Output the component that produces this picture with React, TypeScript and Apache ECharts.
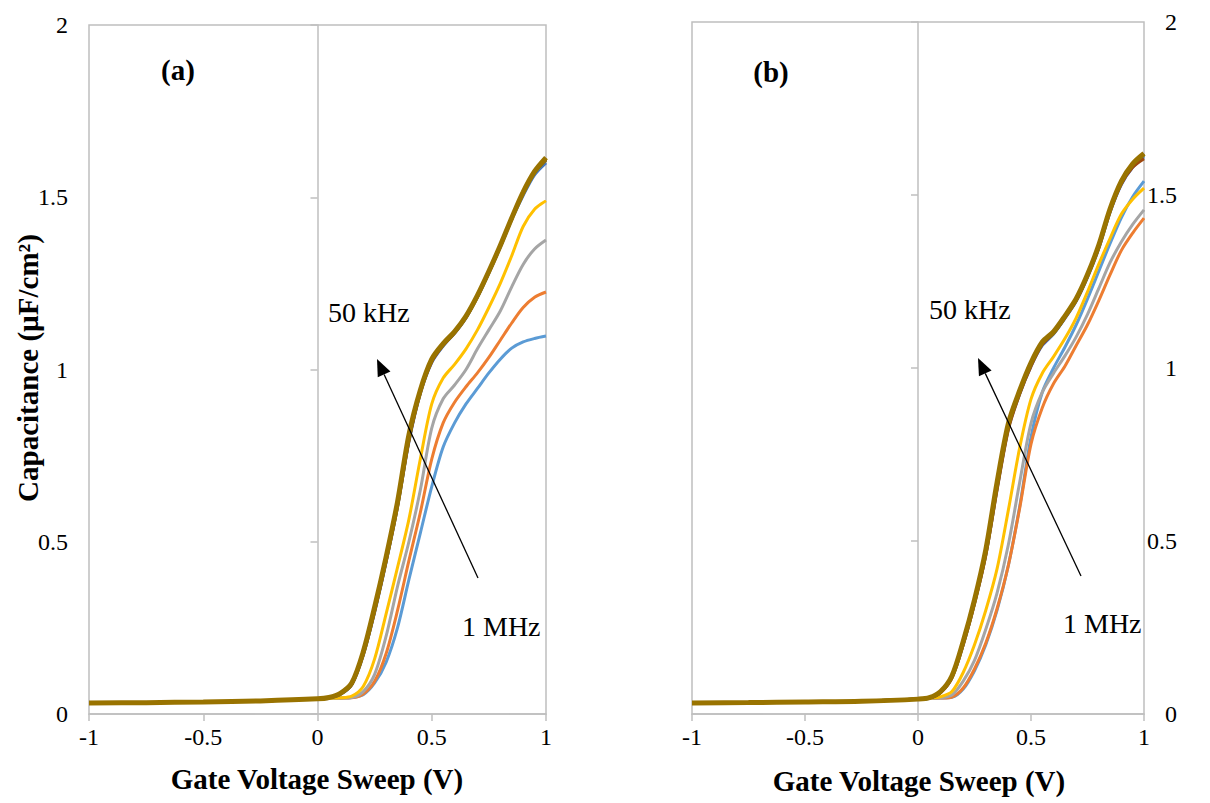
import React, { useEffect, useRef } from "react";
import * as echarts from "echarts";

// Gate voltage sweep (V) – shared sample points
const voltage = [-1, -0.75, -0.5, -0.25, 0, 0.05, 0.1, 0.15, 0.2, 0.25, 0.3, 0.35, 0.4, 0.45, 0.5, 0.55, 0.6, 0.65, 0.7, 0.75, 0.8, 0.85, 0.9, 0.95, 1];

const xTickValues = [-1, -0.5, 0, 0.5, 1];
const yTickValues = [0, 0.5, 1, 1.5, 2];

const seriesNames = ["1 MHz", "f2", "f3", "f4", "f5", "f6", "f7", "f8", "f9", "50 kHz"];
const seriesColors = ["#5B9BD5", "#ED7D31", "#A5A5A5", "#FFC000", "#4472C4", "#70AD47", "#255E91", "#9E480E", "#636363", "#997300"];

// Panel (a) capacitance (µF/cm²)
const a1 = [0.032, 0.033, 0.035, 0.038, 0.044, 0.045, 0.046, 0.048, 0.056, 0.09, 0.15, 0.25, 0.39, 0.525, 0.66, 0.775, 0.845, 0.9, 0.945, 0.99, 1.03, 1.062, 1.08, 1.09, 1.097];
const a2 = [0.032, 0.033, 0.035, 0.038, 0.044, 0.045, 0.046, 0.047, 0.058, 0.095, 0.175, 0.3, 0.445, 0.585, 0.74, 0.845, 0.905, 0.95, 0.99, 1.035, 1.085, 1.135, 1.18, 1.21, 1.225];
const a3 = [0.032, 0.033, 0.035, 0.038, 0.044, 0.045, 0.046, 0.048, 0.065, 0.115, 0.225, 0.37, 0.5, 0.65, 0.83, 0.915, 0.955, 1.0, 1.06, 1.115, 1.17, 1.24, 1.305, 1.35, 1.376];
const a4 = [0.032, 0.033, 0.035, 0.038, 0.044, 0.046, 0.047, 0.052, 0.08, 0.16, 0.29, 0.425, 0.565, 0.74, 0.9, 0.975, 1.015, 1.06, 1.115, 1.18, 1.25, 1.33, 1.415, 1.465, 1.49];
const a5 = [0.032, 0.033, 0.035, 0.038, 0.044, 0.047, 0.057, 0.085, 0.17, 0.295, 0.44, 0.6, 0.79, 0.93, 1.02, 1.068, 1.105, 1.15, 1.21, 1.28, 1.355, 1.435, 1.505, 1.565, 1.6];
const a6 = [0.032, 0.033, 0.035, 0.038, 0.044, 0.047, 0.058, 0.087, 0.175, 0.3, 0.445, 0.605, 0.795, 0.935, 1.025, 1.07, 1.107, 1.152, 1.212, 1.282, 1.357, 1.437, 1.51, 1.57, 1.607];
const a7 = [0.032, 0.033, 0.035, 0.038, 0.044, 0.047, 0.059, 0.088, 0.177, 0.305, 0.45, 0.61, 0.8, 0.937, 1.027, 1.072, 1.108, 1.153, 1.213, 1.283, 1.358, 1.438, 1.512, 1.572, 1.61];
const a8 = [0.032, 0.033, 0.035, 0.038, 0.044, 0.047, 0.058, 0.086, 0.172, 0.298, 0.442, 0.602, 0.792, 0.932, 1.022, 1.07, 1.106, 1.151, 1.211, 1.281, 1.357, 1.438, 1.512, 1.572, 1.608];
const a9 = [0.032, 0.033, 0.035, 0.038, 0.044, 0.047, 0.059, 0.089, 0.178, 0.307, 0.452, 0.612, 0.805, 0.938, 1.028, 1.073, 1.109, 1.154, 1.214, 1.284, 1.359, 1.439, 1.513, 1.573, 1.612];
const a10 = [0.032, 0.033, 0.035, 0.038, 0.044, 0.048, 0.06, 0.09, 0.18, 0.31, 0.455, 0.615, 0.81, 0.94, 1.03, 1.075, 1.11, 1.155, 1.215, 1.285, 1.36, 1.44, 1.515, 1.575, 1.615];

// Panel (b) capacitance (µF/cm²)
const b1 = [0.032, 0.033, 0.035, 0.037, 0.043, 0.045, 0.046, 0.048, 0.072, 0.125, 0.2, 0.3, 0.43, 0.6, 0.8, 0.93, 1.0, 1.06, 1.125, 1.2, 1.28, 1.36, 1.435, 1.495, 1.54];
const b2 = [0.032, 0.033, 0.035, 0.037, 0.043, 0.045, 0.046, 0.049, 0.075, 0.13, 0.205, 0.305, 0.43, 0.595, 0.78, 0.885, 0.955, 1.005, 1.065, 1.125, 1.195, 1.27, 1.34, 1.39, 1.433];
const b3 = [0.032, 0.033, 0.035, 0.037, 0.043, 0.045, 0.047, 0.055, 0.095, 0.155, 0.245, 0.35, 0.49, 0.67, 0.84, 0.93, 0.985, 1.035, 1.09, 1.155, 1.23, 1.305, 1.365, 1.415, 1.457];
const b4 = [0.032, 0.033, 0.035, 0.037, 0.043, 0.046, 0.05, 0.065, 0.12, 0.2, 0.3, 0.42, 0.59, 0.77, 0.91, 0.985, 1.033, 1.085, 1.145, 1.22, 1.3, 1.375, 1.445, 1.488, 1.52];
const b5 = [0.032, 0.033, 0.035, 0.037, 0.043, 0.046, 0.062, 0.105, 0.2, 0.32, 0.46, 0.65, 0.825, 0.925, 1.005, 1.065, 1.098, 1.143, 1.193, 1.262, 1.345, 1.45, 1.53, 1.58, 1.61];
const b6 = [0.032, 0.033, 0.035, 0.037, 0.043, 0.046, 0.063, 0.107, 0.205, 0.325, 0.467, 0.66, 0.832, 0.93, 1.01, 1.07, 1.1, 1.146, 1.196, 1.266, 1.35, 1.455, 1.535, 1.585, 1.615];
const b7 = [0.032, 0.033, 0.035, 0.037, 0.043, 0.046, 0.064, 0.108, 0.207, 0.327, 0.47, 0.663, 0.835, 0.932, 1.012, 1.072, 1.102, 1.147, 1.197, 1.267, 1.352, 1.457, 1.537, 1.587, 1.617];
const b8 = [0.032, 0.033, 0.035, 0.037, 0.043, 0.046, 0.062, 0.104, 0.2, 0.318, 0.458, 0.648, 0.822, 0.925, 1.005, 1.068, 1.1, 1.145, 1.195, 1.265, 1.348, 1.452, 1.532, 1.58, 1.605];
const b9 = [0.032, 0.033, 0.035, 0.037, 0.043, 0.047, 0.064, 0.109, 0.208, 0.328, 0.472, 0.665, 0.837, 0.933, 1.013, 1.073, 1.103, 1.148, 1.198, 1.268, 1.353, 1.458, 1.538, 1.588, 1.618];
const b10 = [0.032, 0.033, 0.035, 0.037, 0.043, 0.047, 0.065, 0.11, 0.21, 0.33, 0.475, 0.67, 0.84, 0.935, 1.015, 1.075, 1.105, 1.15, 1.2, 1.27, 1.355, 1.46, 1.54, 1.59, 1.62];

const panelA = [a1, a2, a3, a4, a5, a6, a7, a8, a9, a10];
const panelB = [b1, b2, b3, b4, b5, b6, b7, b8, b9, b10];

const FONT = "Liberation Serif";
const BOX = "#BFBFBF";

function buildSeries(panel: number[][], gridIdx: number) {
  return panel.map((vals, i) => ({
    type: "line",
    name: seriesNames[i],
    xAxisIndex: gridIdx,
    yAxisIndex: gridIdx * 2,
    data: voltage.map((v, k) => [v, vals[k]]),
    showSymbol: false,
    smooth: 0.3,
    lineStyle: { color: seriesColors[i], width: i === panel.length - 1 ? 5 : 3 },
    itemStyle: { color: seriesColors[i] },
    z: 2 + i,
  }));
}

function arrow(x1: number, y1: number, x2: number, y2: number) {
  const dx = x2 - x1;
  const dy = y2 - y1;
  const len = Math.sqrt(dx * dx + dy * dy);
  const ux = dx / len;
  const uy = dy / len;
  const hl = 17;
  const hw = 7;
  const bx = x2 - ux * hl;
  const by = y2 - uy * hl;
  const nx = -uy;
  const ny = ux;
  return [
    { type: "line", shape: { x1, y1, x2: bx, y2: by }, style: { stroke: "#000", lineWidth: 1.3 }, z: 100 },
    {
      type: "polygon",
      shape: { points: [[x2, y2], [bx + nx * hw, by + ny * hw], [bx - nx * hw, by - ny * hw]] },
      style: { fill: "#000" },
      z: 100,
    },
  ];
}

function txt(text: string, x: number, y: number, size: number, bold: boolean, align = "left", rotation = 0) {
  return {
    type: "text",
    x,
    y,
    rotation,
    z: 100,
    style: {
      text,
      fill: "#000",
      fontFamily: FONT,
      fontSize: size,
      fontWeight: bold ? "bold" : "normal",
      align,
      verticalAlign: "middle",
    },
  };
}

export default function App() {
  const ref = useRef<HTMLDivElement>(null);

  useEffect(() => {
    document.body.style.margin = "0";
    if (!ref.current) return;
    const chart = echarts.init(ref.current, null, { renderer: "svg" });

    const xMin = xTickValues[0];
    const xMax = xTickValues[xTickValues.length - 1];
    const xInt = xTickValues[1] - xTickValues[0];
    const yMin = yTickValues[0];
    const yMax = yTickValues[yTickValues.length - 1];
    const yInt = yTickValues[1] - yTickValues[0];

    const xAxisFor = (gridIndex: number) => ({
      type: "value",
      gridIndex,
      min: xMin,
      max: xMax,
      interval: xInt,
      axisLine: { show: true, onZero: false, lineStyle: { color: BOX, width: 1.5 } },
      axisTick: { show: true, inside: false, length: 7, lineStyle: { color: BOX, width: 1.5 } },
      axisLabel: { show: true, color: "#000", fontFamily: FONT, fontSize: 24, margin: 11 },
      splitLine: { show: false },
    });

    const yLineAxis = (gridIndex: number) => ({
      type: "value",
      gridIndex,
      position: "left",
      min: yMin,
      max: yMax,
      interval: yInt,
      axisLine: { show: true, onZero: true, lineStyle: { color: BOX, width: 1.5 } },
      axisTick: { show: true, inside: false, length: 7, lineStyle: { color: BOX, width: 1.5 } },
      axisLabel: { show: false },
      splitLine: { show: false },
    });

    const yLabelAxis = (gridIndex: number, position: string, margin: number, align: string) => ({
      type: "value",
      gridIndex,
      position,
      min: yMin,
      max: yMax,
      interval: yInt,
      axisLine: { show: false, onZero: false },
      axisTick: { show: false },
      axisLabel: { show: true, color: "#000", fontFamily: FONT, fontSize: 24, margin, align },
      splitLine: { show: false },
    });

    chart.setOption({
      animation: false,
      backgroundColor: "#fff",
      grid: [
        { left: 89, top: 25, width: 457, height: 689, show: true, borderColor: BOX, borderWidth: 1.5, backgroundColor: "transparent" },
        { left: 692, top: 22, width: 452, height: 692, show: true, borderColor: BOX, borderWidth: 1.5, backgroundColor: "transparent" },
      ],
      xAxis: [xAxisFor(0), xAxisFor(1)],
      yAxis: [
        yLineAxis(0),
        yLabelAxis(0, "left", 21, "right"),
        yLineAxis(1),
        yLabelAxis(1, "right", 33, "right"),
      ],
      series: [...buildSeries(panelA, 0), ...buildSeries(panelB, 1)],
      graphic: [
        txt("(a)", 178, 70, 29, true, "center"),
        txt("(b)", 771, 72, 29, true, "center"),
        txt("50 kHz", 328, 312, 28, false),
        txt("1 MHz", 462, 626, 28, false),
        txt("50 kHz", 929, 309, 28, false),
        txt("1 MHz", 1063, 623, 28, false),
        ...arrow(478, 578, 377, 359),
        ...arrow(1081, 576, 978, 358),
        txt("Gate Voltage Sweep (V)", 317, 779, 29, true, "center"),
        txt("Gate Voltage Sweep (V)", 919, 781, 29, true, "center"),
        txt("Capacitance (µF/cm²)", 28, 368, 29, true, "center", Math.PI / 2),
      ],
    });

    return () => {
      chart.dispose();
    };
  }, []);

  return <div ref={ref} style={{ width: 1210, height: 803 }} />;
}
